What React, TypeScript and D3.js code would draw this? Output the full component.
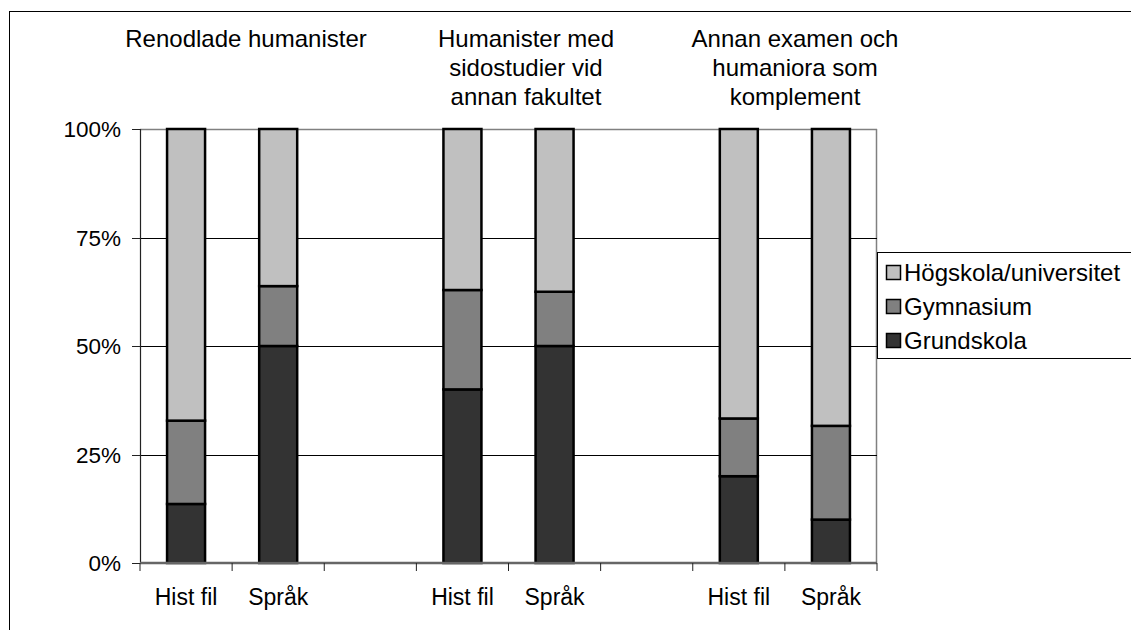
import React from "react";
import * as d3 from "d3";

const groupTitles: string[][] = [
  ["Renodlade humanister"],
  ["Humanister med", "sidostudier vid", "annan fakultet"],
  ["Annan examen och", "humaniora som", "komplement"],
];
const subjects = ["Hist fil", "Språk"];
const seriesNames = ["Grundskola", "Gymnasium", "Högskola/universitet"];
const grundskola = [13.6, 50, 40, 50, 20, 10];
const gymnasium = [19.2, 13.8, 22.9, 12.5, 13.3, 21.6];
const hogskola = [67.2, 36.2, 37.1, 37.5, 66.7, 68.4];
const yTicks = [0, 25, 50, 75, 100];

const colors = ["#333333", "#808080", "#C0C0C0"];
const FONT = "'Liberation Sans', Arial, sans-serif";

export default function App() {
  const W = 1131, H = 630;
  const left = 140, right = 877, top = 129, bottom = 563;
  // 8 slots: 2 bars, gap, 2 bars, gap, 2 bars
  const slots = d3.range(8);
  const x = d3.scaleBand<number>().domain(slots).range([left, right]).paddingInner(0).paddingOuter(0);
  const y = d3.scaleLinear().domain([0, 100]).range([bottom, top]);
  const barW = 38;

  const rows = grundskola.map((g, i) => ({
    slot: Math.floor(i / 2) * 3 + (i % 2),
    label: subjects[i % 2],
    Grundskola: g,
    Gymnasium: gymnasium[i],
    "Högskola/universitet": hogskola[i],
  }));
  const stacked = d3.stack<any>().keys(seriesNames)(rows);

  const titleCenters = [246, 526, 795];
  const legendRows = [...seriesNames].reverse();

  return (
    <svg width={W} height={H} style={{ position: "absolute", left: 0, top: 0 }} fontFamily={FONT}>
      <rect x={0} y={0} width={W} height={H} fill="#fff" />
      {/* outer frame */}
      <rect x={9.5} y={11.5} width={W + 20} height={H + 20} fill="none" stroke="#000" strokeWidth={1} />
      {/* plot border */}
      <line x1={left} x2={right} y1={top + 0.5} y2={top + 0.5} stroke="#808080" strokeWidth={1.5} />
      <line x1={right - 0.5} x2={right - 0.5} y1={top} y2={bottom} stroke="#808080" strokeWidth={1.5} />
      {/* gridlines */}
      {yTicks.filter(t => t > 0 && t < 100).map(t => (
        <line key={t} x1={left} x2={right} y1={Math.round(y(t)) + 0.5} y2={Math.round(y(t)) + 0.5} stroke="#000" strokeWidth={1} />
      ))}
      {/* y axis */}
      <line x1={left + 0.5} x2={left + 0.5} y1={top} y2={bottom} stroke="#222" strokeWidth={1.2} />
      {yTicks.map(t => (
        <g key={t}>
          <line x1={left - 8} x2={left} y1={Math.round(y(t)) + 0.5} y2={Math.round(y(t)) + 0.5} stroke="#222" />
          <text x={121} y={y(t) + 8} fontSize={22.5} textAnchor="end" fill="#000">{t}%</text>
        </g>
      ))}
      {/* bars */}
      {stacked.map((s, si) => s.map((d, i) => {
        const cx = (x(rows[i].slot) as number) + x.bandwidth() / 2;
        return (
          <rect key={si + "-" + i} x={cx - barW / 2} y={y(d[1])} width={barW} height={y(d[0]) - y(d[1])}
            fill={colors[si]} stroke="#000" strokeWidth={2.5} />
        );
      }))}
      {/* x axis */}
      <line x1={left} x2={right} y1={bottom} y2={bottom} stroke="#666" strokeWidth={2.5} />
      {d3.range(9).map(k => {
        const xx = left + k * x.bandwidth();
        return <line key={k} x1={xx} x2={xx} y1={bottom} y2={bottom + 8} stroke="#222" strokeWidth={1} />;
      })}
      {rows.map((r, i) => (
        <text key={i} x={(x(r.slot) as number) + x.bandwidth() / 2} y={605} fontSize={23} textAnchor="middle" fill="#000">{r.label}</text>
      ))}
      {/* group titles */}
      {groupTitles.map((lines, gi) => (
        <text key={gi} x={titleCenters[gi]} fontSize={24} textAnchor="middle" fill="#000">
          {lines.map((l, li) => (
            <tspan key={li} x={titleCenters[gi]} y={47 + li * 29}>{l}</tspan>
          ))}
        </text>
      ))}
      {/* legend */}
      <rect x={877.5} y={252.5} width={300} height={106} fill="#fff" stroke="#000" strokeWidth={1} />
      {legendRows.map((name, i) => {
        const cy = 272.5 + i * 34;
        const ci = seriesNames.indexOf(name);
        return (
          <g key={name}>
            <rect x={886.5} y={cy - 7} width={14} height={14} fill={colors[ci]} stroke="#000" strokeWidth={1.5} />
            <text x={904} y={cy + 8.5} fontSize={24} fill="#000">{name}</text>
          </g>
        );
      })}
    </svg>
  );
}
